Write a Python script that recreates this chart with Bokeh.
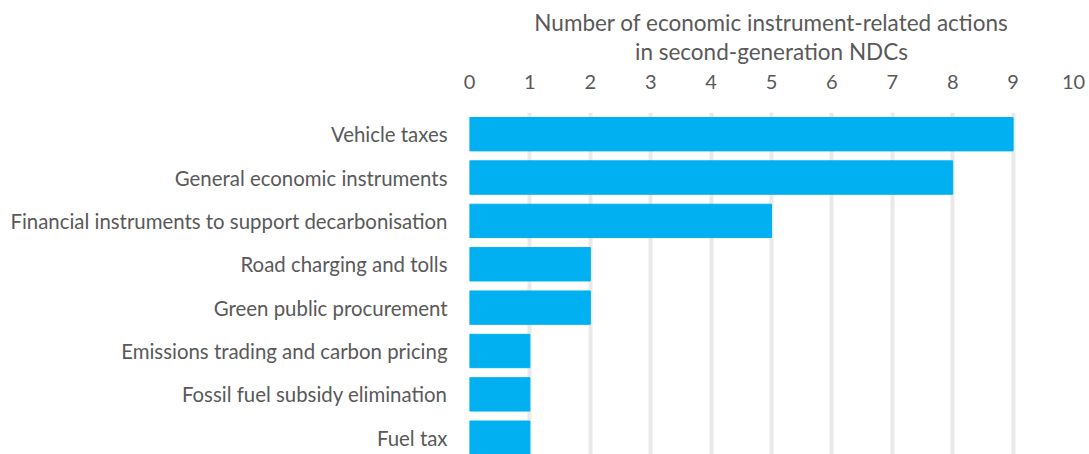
from bokeh.plotting import figure
from bokeh.models import Range1d, FixedTicker, Title, ColumnDataSource
from bokeh.embed import file_html
from bokeh.resources import INLINE

categories = [
    "Vehicle taxes",
    "General economic instruments",
    "Financial instruments to support decarbonisation",
    "Road charging and tolls",
    "Green public procurement",
    "Emissions trading and carbon pricing",
    "Fossil fuel subsidy elimination",
    "Fuel tax",
]
values = [9, 8, 5, 2, 2, 1, 1, 1]
x_ticks = [0, 1, 2, 3, 4, 5, 6, 7, 8, 9, 10]
title_lines = ["Number of economic instrument-related actions", "in second-generation NDCs"]

FONT = "Lato"
TXT = "#595959"

ypos = list(range(len(categories)))
src = ColumnDataSource(dict(y=ypos, v=values, name=categories))

p = figure(width=1089, height=454, output_backend="svg", toolbar_location=None,
           x_range=Range1d(0, 10), y_range=Range1d(7.41, -0.5),
           x_axis_location="above", min_border_left=469, min_border_right=16,
           min_border_top=111, min_border_bottom=0)
p.frame_width = 604
p.frame_height = 343
p.outline_line_color = None

p.hbar(y="y", right="v", left=0, height=0.77, source=src, color="#00B0F0")

xa = p.xaxis[0]
xa.ticker = FixedTicker(ticks=x_ticks)
xa.axis_line_color = None
xa.major_tick_line_color = None
xa.minor_tick_line_color = None
xa.major_tick_out = 0
xa.major_label_standoff = 24
xa.major_label_text_font = FONT
xa.major_label_text_font_size = "20px"
xa.major_label_text_color = TXT

ya = p.yaxis[0]
ya.ticker = FixedTicker(ticks=ypos)
ya.major_label_overrides = {i: c for i, c in zip(ypos, categories)}
ya.axis_line_color = None
ya.major_tick_line_color = None
ya.minor_tick_line_color = None
ya.major_tick_out = 0
ya.major_label_standoff = 22
ya.major_label_text_font = FONT
ya.major_label_text_font_size = "20.4px"
ya.major_label_text_color = TXT

p.xgrid.ticker = FixedTicker(ticks=x_ticks)
p.xgrid.grid_line_color = "#E9E9E9"
p.xgrid.grid_line_width = 4
p.ygrid.grid_line_color = None

p.add_layout(Title(text="\n".join(title_lines), align="center", text_align="center",
                   text_font=FONT, text_font_size="22.5px", text_line_height=1.11,
                   text_font_style="normal", text_color=TXT, standoff=12), "above")

open("out.html", "w").write(file_html(p, INLINE))
